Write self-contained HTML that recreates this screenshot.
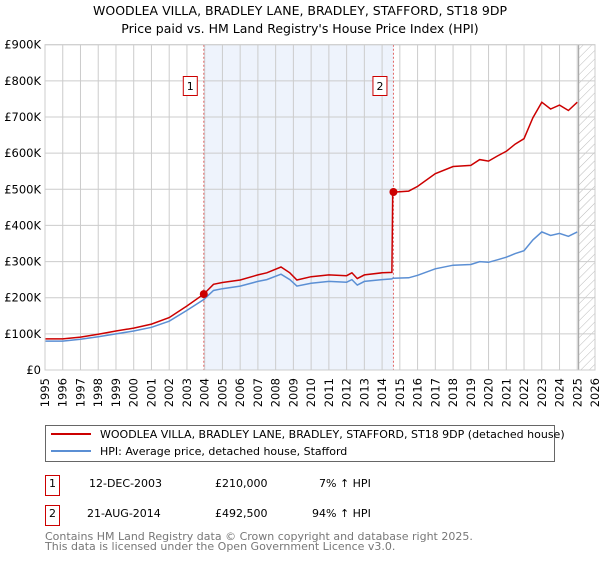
<!DOCTYPE html>
<html><head><meta charset="utf-8"><style>
body{margin:0;background:#fff;font-family:"DejaVu Sans","Liberation Sans",sans-serif;}
svg text{font-family:"DejaVu Sans","Liberation Sans",sans-serif;}
</style></head><body>
<svg id="chart" width="600" height="560" xmlns="http://www.w3.org/2000/svg">
<defs><pattern id="hatch" width="6" height="6" patternUnits="userSpaceOnUse" patternTransform="rotate(45)"><line x1="0" y1="0" x2="0" y2="6" stroke="#bbb" stroke-width="1"/></pattern></defs>
<text x="300" y="15" text-anchor="middle" font-size="12.5">WOODLEA VILLA, BRADLEY LANE, BRADLEY, STAFFORD, ST18 9DP</text>
<text x="300" y="33" text-anchor="middle" font-size="12.5">Price paid vs. HM Land Registry's House Price Index (HPI)</text>
<g id="plot"></g>
<g>
<rect x="45.5" y="425.5" width="509" height="36" fill="#fff" stroke="#666"/>
<line x1="51" y1="434" x2="91" y2="434" stroke="#cc0000" stroke-width="2"/>
<text x="100" y="438" font-size="11">WOODLEA VILLA, BRADLEY LANE, BRADLEY, STAFFORD, ST18 9DP (detached house)</text>
<line x1="51" y1="451" x2="91" y2="451" stroke="#5b8fd4" stroke-width="2"/>
<text x="100" y="455" font-size="11">HPI: Average price, detached house, Stafford</text>
</g>
<g font-size="11">
<rect x="45.5" y="475.5" width="14" height="20" fill="#fff" stroke="#cc0000"/><text x="52.5" y="487" text-anchor="middle">1</text>
<text x="89" y="487">12-DEC-2003</text><text x="215" y="487">£210,000</text><text x="319" y="487">7% ↑ HPI</text>
<rect x="45.5" y="505.5" width="14" height="20" fill="#fff" stroke="#cc0000"/><text x="52.5" y="517" text-anchor="middle">2</text>
<text x="87" y="517">21-AUG-2014</text><text x="215" y="517">£492,500</text><text x="312" y="517">94% ↑ HPI</text>
</g>
<text x="45" y="540" font-size="11" fill="#777">Contains HM Land Registry data © Crown copyright and database right 2025.</text>
<text x="45" y="550" font-size="11" fill="#777">This data is licensed under the Open Government Licence v3.0.</text>
</svg>
<script>
const hpiYears=[1995,1996,1997,1998,1999,2000,2001,2002,2003,2003.95,2004.5,2005,2006,2007,2007.5,2008.3,2008.8,2009.2,2010,2011,2012,2012.3,2012.6,2013,2014,2014.55,2014.6,2015.5,2016,2017,2018,2019,2019.5,2020,2020.5,2021,2021.5,2022,2022.5,2023,2023.5,2024,2024.5,2025];
const hpiValues=[80,80,85,92,100,108,118,135,165,195,220,225,232,245,250,265,250,232,240,245,243,250,235,245,250,252,254,255,262,280,290,292,300,298,305,312,322,330,360,382,372,378,370,382];
const priceYears=hpiYears;
const priceValues=[86,86,91,99,108,116,127,145,177,210,237,242,249,263,269,285,269,249,258,263,261,269,253,263,269,270,492,495,508,543,563,566,582,578,592,605,625,640,698,741,722,733,718,741];
const sales=[[2003.95,210,"1"],[2014.64,492.5,"2"]];
const yTicks=[0,100,200,300,400,500,600,700,800,900];
const yTickLabels=["£0","£100K","£200K","£300K","£400K","£500K","£600K","£700K","£800K","£900K"];
const xTicks=[1995,1996,1997,1998,1999,2000,2001,2002,2003,2004,2005,2006,2007,2008,2009,2010,2011,2012,2013,2014,2015,2016,2017,2018,2019,2020,2021,2022,2023,2024,2025,2026];
const L=45,R=595,T=44.7,B=370;
const xs=y=>L+(y-1995)*(R-L)/31;
const ys=v=>B-v*(B-T)/900;
const NS="http://www.w3.org/2000/svg";
const g=document.getElementById('plot');
function mk(tag,attrs,parent){const e=document.createElementNS(NS,tag);for(const k in attrs)e.setAttribute(k,attrs[k]);(parent||g).appendChild(e);return e;}
let e;
e=mk('rect',{x:xs(2003.95),y:T,width:xs(2014.64)-xs(2003.95),height:B-T,fill:'#eef3fc'});


e=mk('rect',{x:xs(2025.08),y:T,width:R-xs(2025.08),height:B-T,fill:'url(#hatch)'});


xTicks.forEach(t=>{
 e=mk('line',{x1:xs(t),x2:xs(t),y1:T,y2:B,stroke:'#cccccc'});
 
 
 e=mk('text',{transform:`translate(${xs(t)+4},${B+8}) rotate(-90)`,'text-anchor':'end','font-size':'11.5'});
 e.textContent=t;
 
 
});
yTicks.forEach((t,i)=>{
 e=mk('line',{x1:L,x2:R,y1:ys(t),y2:ys(t),stroke:'#cccccc'});
 
 
 e=mk('text',{x:L-4,y:ys(t)+4,'text-anchor':'end','font-size':'11.5'});
 e.textContent=yTickLabels[i];
 
 
});
e=mk('line',{x1:xs(2025.08),x2:xs(2025.08),y1:T,y2:B,stroke:'#999'});


sales.forEach(s=>{
 e=mk('line',{x1:xs(s[0]),x2:xs(s[0]),y1:T,y2:B,stroke:'#e06666','stroke-dasharray':'2,2'});
 
 
});
const pts=(xa,va)=>xa.map((x,i)=>xs(x).toFixed(1)+','+ys(va[i]).toFixed(1)).join(' ');
e=mk('polyline',{points:pts(hpiYears,hpiValues),fill:'none',stroke:'#5b8fd4','stroke-width':'1.5'});


e=mk('polyline',{points:pts(priceYears,priceValues),fill:'none',stroke:'#cc0000','stroke-width':'1.5'});


sales.forEach(s=>{
 e=mk('circle',{cx:xs(s[0]),cy:ys(s[1]),r:4,fill:'#cc0000'});
 
 
 e=mk('rect',{x:xs(s[0])-20.5,y:76.5,width:14,height:19,fill:'#fff',stroke:'#cc0000'});
 
 
 e=mk('text',{x:xs(s[0])-13.5,y:90,'text-anchor':'middle','font-size':'11'});
 e.textContent=s[2];
 
 
});
e=mk('rect',{x:L,y:T,width:R-L,height:B-T,fill:'none',stroke:'#cccccc'});


</script>
</body></html>
